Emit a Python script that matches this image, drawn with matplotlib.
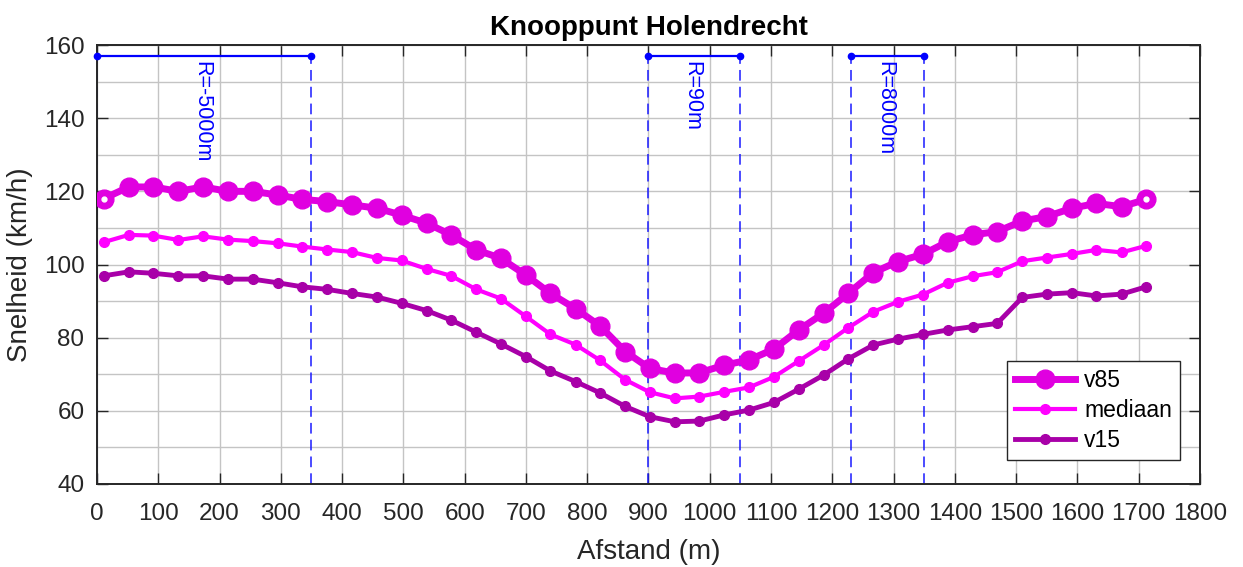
import matplotlib
matplotlib.use('Agg')
import matplotlib.pyplot as plt
from matplotlib.ticker import MultipleLocator


# afstand (m) van de meetpunten
afstand = [11, 52, 92, 133, 173, 214, 254, 295, 335, 376, 416, 457, 497, 538, 578,
           619, 659, 700, 740, 781, 821, 862, 902, 943, 983, 1024, 1064, 1105, 1145,
           1186, 1226, 1267, 1307, 1348, 1388, 1429, 1469, 1510, 1550, 1591, 1631,
           1672, 1712]

v85 = [118.0, 121.2, 121.2, 120.0, 121.2, 120.0, 120.0, 119.0, 117.8, 117.2, 116.3,
       115.4, 113.5, 111.3, 108.1, 104.0, 101.7, 97.1, 92.1, 87.9, 83.2, 76.2, 71.6,
       70.3, 70.4, 72.5, 73.9, 76.9, 82.1, 86.7, 92.1, 97.8, 100.8, 102.8, 106.2,
       108.1, 109.0, 111.9, 113.1, 115.4, 116.7, 115.8, 117.8]

mediaan = [106.1, 108.1, 107.9, 106.7, 107.7, 106.8, 106.4, 105.8, 104.9, 104.1,
           103.4, 101.8, 101.1, 98.8, 96.9, 93.2, 90.7, 85.8, 80.9, 78.1, 73.8, 68.5,
           65.1, 63.4, 63.9, 65.2, 66.4, 69.3, 73.6, 78.0, 82.7, 87.1, 89.8, 91.8,
           95.0, 96.8, 97.9, 100.9, 101.9, 102.9, 104.0, 103.3, 105.1]

v15 = [96.9, 98.0, 97.6, 96.9, 96.9, 96.0, 96.0, 95.0, 93.9, 93.2, 92.1, 91.1, 89.4,
       87.4, 84.8, 81.5, 78.3, 74.8, 70.9, 68.0, 64.9, 61.2, 58.4, 57.0, 57.2, 58.9,
       60.2, 62.3, 65.9, 69.8, 74.2, 78.0, 79.6, 80.9, 82.1, 83.0, 83.9, 91.0, 91.9,
       92.3, 91.4, 91.9, 93.9]

# boogstralen: (begin, eind, label)
boog_start = [0, 900, 1230]
boog_eind = [350, 1050, 1350]
boog_label = ['R=-5000m', 'R=90m', 'R=8000m']
boog_hoogte = 157

plt.rcParams['font.family'] = ['Liberation Sans', 'DejaVu Sans']


def plot_bogen(ax):
    for start, eind, label in zip(boog_start, boog_eind, boog_label):
        for xv in (start, eind):
            ax.plot([xv, xv], [40, boog_hoogte], color='#1a1aff', linewidth=1.1,
                    dashes=(7, 4), zorder=2)
        ax.plot([start, eind], [boog_hoogte, boog_hoogte], color='#0000ff',
                linewidth=1.6, marker='o', markersize=4.5, zorder=5, clip_on=False)
        ax.text((start + eind) / 2 - 4, boog_hoogte - 1.5, label, rotation=-90,
                ha='center', va='top', color='#0000ff', fontsize=15.5)


def main():
    fig = plt.figure(figsize=(12.43, 5.67), dpi=100)
    ax = fig.add_axes([0.078, 0.1464, 0.8874, 0.7742])

    plot_bogen(ax)

    ax.plot(afstand, v85, color='#e000e0', linewidth=5, marker='o', markersize=13.5,
            label='v85', zorder=4)
    ax.plot([afstand[0], afstand[-1]], [v85[0], v85[-1]], linestyle='none',
            marker='o', markersize=3.5, color='white', zorder=4.5)
    ax.plot(afstand, mediaan, color='#ff00ff', linewidth=3, marker='o', markersize=7,
            label='mediaan', zorder=4)
    ax.plot(afstand, v15, color='#a800a8', linewidth=3.5, marker='o', markersize=7,
            label='v15', zorder=4)

    ax.set_xlim(0, 1800)
    ax.set_ylim(40, 160)
    ax.xaxis.set_major_locator(MultipleLocator(100))
    ax.yaxis.set_major_locator(MultipleLocator(20))
    ax.yaxis.set_minor_locator(MultipleLocator(10))
    ax.grid(True, which='major', color='#c4c4c4', linewidth=1.0)
    ax.grid(True, which='minor', axis='y', color='#c4c4c4', linewidth=1.0)
    ax.set_axisbelow(True)
    ax.tick_params(which='major', direction='in', length=8, width=1.0,
                   top=True, right=True, labelsize=17.5, colors='#262626')
    ax.tick_params(axis='x', pad=14)
    ax.tick_params(axis='y', pad=9)
    ax.tick_params(which='minor', length=0)
    for spine in ax.spines.values():
        spine.set_color('#262626')
        spine.set_linewidth(1.4)

    ax.set_title('Knooppunt Holendrecht', fontsize=20, fontweight='bold', pad=7)
    ax.set_xlabel('Afstand (m)', fontsize=20, color='#262626', labelpad=10)
    ax.set_ylabel('Snelheid (km/h)', fontsize=20, color='#262626', labelpad=8)

    leg = ax.legend(loc='lower right', bbox_to_anchor=(0.982, 0.055), fontsize=16.5,
                    handlelength=2.6, handletextpad=0.4, fancybox=False,
                    framealpha=1, edgecolor='#262626', borderpad=0.35,
                    labelspacing=0.3, borderaxespad=0)
    leg.get_frame().set_linewidth(1.0)

    fig.savefig('out.png', dpi=100)


if __name__ == '__main__':
    main()
